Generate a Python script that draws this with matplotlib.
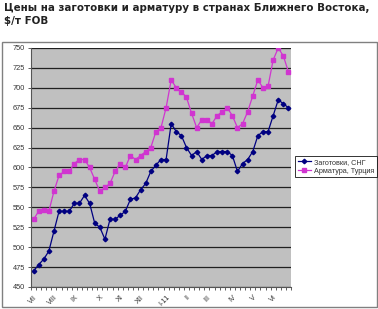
import matplotlib
matplotlib.use("Agg")
import matplotlib.pyplot as plt
from matplotlib.patches import Rectangle
import numpy as np

# weekly prices, $/t FOB (VII-2010 .. VI-2011)
billets_cis = [470, 478, 485, 495, 520, 545, 545, 545, 555, 555,
               565, 555, 530, 525, 510, 535, 535, 540, 545, 560,
               562, 572, 580, 595, 603, 610, 610, 655, 645, 640,
               625, 615, 620, 610, 615, 615, 620, 620, 620, 615,
               595, 605, 610, 620, 640, 645, 645, 665, 685, 680,
               675]
rebar_turkey = [535, 545, 547, 545, 570, 590, 595, 595, 605, 610,
                610, 600, 585, 570, 575, 580, 595, 605, 600, 615,
                610, 615, 620, 625, 645, 650, 675, 710, 700, 695,
                688, 668, 650, 660, 660, 655, 665, 670, 675, 665,
                650, 655, 670, 690, 710, 700, 702, 735, 750, 740,
                720]
month_labels = ['VII', 'VIII', 'IX', 'X', 'XI', 'XII', 'I-11', 'II', 'III', 'IV', 'V', 'VI']
month_pos = [0, 4, 8, 13, 17, 21, 26, 30, 34, 39, 43, 47]
y_ticks = list(range(450, 751, 25))

W, H = 378, 309
fig = plt.figure(figsize=(W / 100, H / 100), dpi=100)
fig.patch.set_facecolor('white')

# outer chart frame
fig.patches.append(Rectangle((2 / W, 1 - 306.5 / H), 375 / W, 265 / H,
                             transform=fig.transFigure, fill=False,
                             edgecolor='#808080', linewidth=1.0))

fig.text(4 / W, 1 - 3 / H,
         'Цены на заготовки и арматуру в странах Ближнего Востока,\n$/т FOB',
         ha='left', va='top', fontsize=7.4, fontweight='bold',
         family='DejaVu Sans', color='#222222', linespacing=1.35)

ax = fig.add_axes([31 / W, 1 - 287 / H, 260 / W, 239 / H])
ax.set_facecolor('#C0C0C0')

x = np.arange(len(billets_cis))
ax.plot(x, billets_cis, color='#000080', lw=0.9, marker='D', ms=2.3,
        mfc='#000080', mec='#000080', label='Заготовки, СНГ')
ax.plot(x, rebar_turkey, color='#D035D0', lw=0.9, marker='s', ms=3.0,
        mfc='#D035D0', mec='#D035D0', label='Арматура, Турция')

ax.set_ylim(450, 750)
ax.set_xlim(-0.5, len(x) - 0.5)
ax.set_yticks(y_ticks)
ax.set_yticklabels([str(v) for v in y_ticks], fontsize=5.3, color='#333333',
                   family='Liberation Sans')
ax.yaxis.grid(True, color='#202020', lw=0.9)
ax.set_axisbelow(True)

ax.set_xticks(month_pos)
ax.set_xticklabels(month_labels, rotation=45, ha='right', rotation_mode='anchor',
                   fontsize=5.3, color='#333333', family='Liberation Sans')
ax.set_xticks(np.arange(-0.5, len(x), 1), minor=True)
ax.tick_params(axis='x', which='major', length=0, pad=5)
ax.tick_params(axis='x', which='minor', length=2.5, width=0.6, color='#444444', direction='out')
ax.tick_params(axis='y', length=2.5, width=0.6, color='#444444', pad=2)

for s in ['top', 'right']:
    ax.spines[s].set_visible(False)
for s in ['left', 'bottom']:
    ax.spines[s].set_color('#555555')
    ax.spines[s].set_linewidth(0.8)

leg = fig.legend(loc='upper right', bbox_to_anchor=(378 / W, 1 - 155 / H),
                 frameon=True, fancybox=False, borderpad=0.3,
                 handlelength=1.9, handletextpad=0.4, labelspacing=0.25,
                 borderaxespad=0.2, prop={'family': 'Liberation Sans', 'size': 5.2})
leg.get_frame().set_edgecolor('#000000')
leg.get_frame().set_linewidth(0.7)
for t in leg.get_texts():
    t.set_color('#333333')

fig.savefig('out.png', dpi=100)
